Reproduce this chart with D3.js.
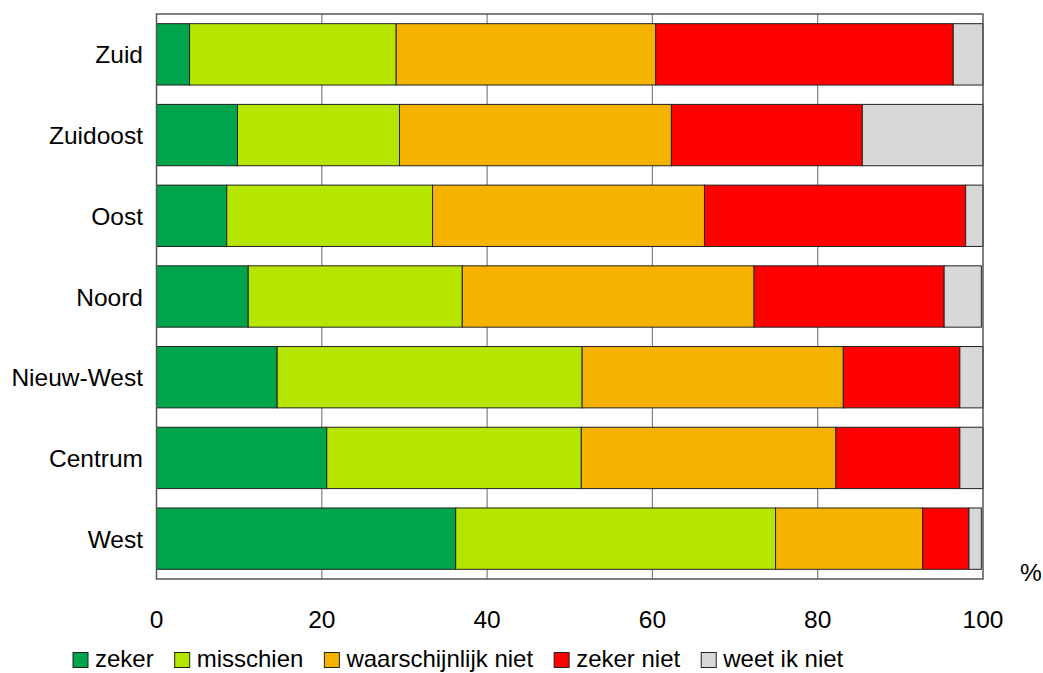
<!DOCTYPE html>
<html><head><meta charset="utf-8">
<script src="https://cdn.jsdelivr.net/npm/d3@7"></script>
<style>body{margin:0;background:#fff}text{font-family:"Liberation Sans",Arial,sans-serif;fill:#000}</style>
</head><body>
<svg id="c" width="1043" height="673"></svg>
<script>
const categories = ["Zuid","Zuidoost","Oost","Noord","Nieuw-West","Centrum","West"];
const seriesNames = ["zeker","misschien","waarschijnlijk niet","zeker niet","weet ik niet"];
const zeker        = [4.0, 9.8, 8.5, 11.1, 14.6, 20.6, 36.2];
const misschien    = [25.0, 19.6, 24.9, 25.9, 36.9, 30.8, 38.7];
const waarschNiet  = [31.4, 32.9, 32.9, 35.3, 31.6, 30.8, 17.8];
const zekerNiet    = [36.0, 23.1, 31.6, 23.0, 14.1, 15.0, 5.6];
const weetIkNiet   = [3.6, 14.6, 2.1, 4.5, 2.8, 2.8, 1.5];
const xTicks = [0, 20, 40, 60, 80, 100];
const colors = ["#00a44a", "#b6e600", "#f5b300", "#ff0000", "#d8d8d8"];

const rows = categories.map((c, i) => ({cat: c, zeker: zeker[i], misschien: misschien[i],
  "waarschijnlijk niet": waarschNiet[i], "zeker niet": zekerNiet[i], "weet ik niet": weetIkNiet[i]}));
const stack = d3.stack().keys(seriesNames)(rows);

const svg = d3.select("#c");
const L = 156.5, R = 983, T = 14, B = 579;
const x = d3.scaleLinear().domain([0, 100]).range([L, R]);
const y = d3.scaleBand().domain(categories).range([T, B]).paddingInner(0.24).paddingOuter(0.12);
const FS = 24.5;

// gridlines
svg.append("g").selectAll("line").data(xTicks.slice(1, -1)).join("line")
  .attr("x1", d => x(d)).attr("x2", d => x(d)).attr("y1", T).attr("y2", B)
  .attr("stroke", "#808080").attr("stroke-width", 1.2);

// bars
svg.append("g").selectAll("g").data(stack).join("g")
  .attr("fill", (d, i) => colors[i])
  .selectAll("rect").data(d => d).join("rect")
  .attr("x", d => x(d[0])).attr("width", d => x(d[1]) - x(d[0]))
  .attr("y", d => y(d.data.cat)).attr("height", y.bandwidth())
  .attr("stroke", "#222").attr("stroke-width", 1);

// frame
svg.append("rect").attr("x", L).attr("y", T).attr("width", R - L).attr("height", B - T)
  .attr("fill", "none").attr("stroke", "#555").attr("stroke-width", 1.5);

// y labels
svg.append("g").selectAll("text").data(categories).join("text")
  .attr("x", 143).attr("y", d => y(d) + y.bandwidth() / 2 + 9)
  .attr("text-anchor", "end").attr("font-size", FS).text(d => d);

// x tick labels
svg.append("g").selectAll("text").data(xTicks).join("text")
  .attr("x", d => x(d)).attr("y", 628).attr("text-anchor", "middle")
  .attr("font-size", FS).text(d => d);

svg.append("text").attr("x", 1031).attr("y", 581).attr("text-anchor", "middle")
  .attr("font-size", FS).text("%");

// legend
const lg = svg.append("g");
let cx = 73;
seriesNames.forEach((n, i) => {
  lg.append("rect").attr("x", cx).attr("y", 652.5).attr("width", 15).attr("height", 15)
    .attr("fill", colors[i]).attr("stroke", "#222").attr("stroke-width", 1);
  const t = lg.append("text").attr("x", cx + 22).attr("y", 667).attr("font-size", 24).text(n);
  cx = cx + 22 + t.node().getComputedTextLength() + 21;
});
</script>
</body></html>
